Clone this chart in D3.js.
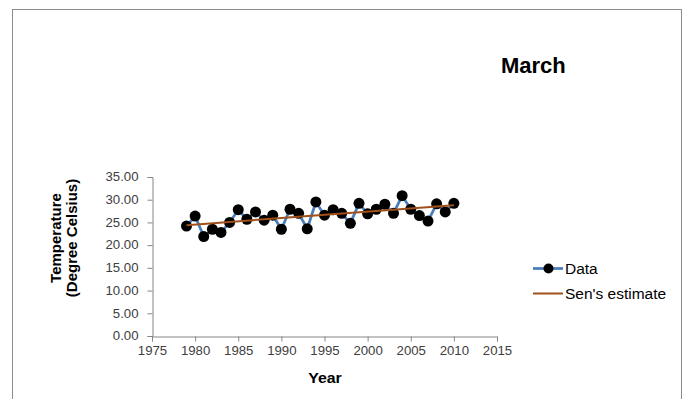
<!DOCTYPE html>
<html>
<head>
<meta charset="utf-8">
<script src="https://cdn.jsdelivr.net/npm/d3@7/dist/d3.min.js"></script>
<style>
  html, body { margin: 0; padding: 0; background: #fff; }
  svg { display: block; }
  text { font-family: "Liberation Sans", Arial, sans-serif; }
</style>
</head>
<body>
<svg id="chart" width="687" height="399"></svg>
<script>
// Mean March temperature per year
const years = [1979, 1980, 1981, 1982, 1983, 1984, 1985, 1986, 1987, 1988,
               1989, 1990, 1991, 1992, 1993, 1994, 1995, 1996, 1997, 1998,
               1999, 2000, 2001, 2002, 2003, 2004, 2005, 2006, 2007, 2008,
               2009, 2010];
const temps = [24.2, 26.4, 21.9, 23.5, 22.8, 25.0, 27.8, 25.7, 27.3, 25.5,
               26.6, 23.5, 27.9, 27.0, 23.6, 29.5, 26.6, 27.8, 27.0, 24.8,
               29.2, 26.9, 27.9, 29.0, 27.0, 30.9, 27.9, 26.5, 25.3, 29.1,
               27.3, 29.2];
// Sen's slope trend line, endpoints
const senYears = [1979, 2010];
const senValues = [24.4, 28.8];

const xTicks = [1975, 1980, 1985, 1990, 1995, 2000, 2005, 2010, 2015];
const yTicks = [0, 5, 10, 15, 20, 25, 30, 35];

const chartTitle = "March";
const xTitle = "Year";
const yTitleLines = ["Temperature", "(Degree Celsius)"];
const legendLabels = ["Data", "Sen's estimate"];

const svg = d3.select("#chart");

// widen glyphs horizontally while keeping each text's anchor point fixed
function stretch(sel, k) {
  sel.each(function () {
    const t = d3.select(this);
    const x0 = +(t.attr("x") || 0);
    t.attr("x", x0 / k).attr("transform", `scale(${k},1)`);
  });
}

// outer chart frame
svg.append("rect")
  .attr("x", 12.5).attr("y", 9.5)
  .attr("width", 669).attr("height", 420)
  .attr("fill", "#fff").attr("stroke", "#8c8c8c").attr("stroke-width", 1);

const x = d3.scaleLinear().domain([1975, 2015]).range([152, 497]);
const y = d3.scaleLinear().domain([0, 35]).range([336, 177]);

const axisColor = "#868686";

// y axis
const gy = svg.append("g")
  .attr("transform", "translate(152.5,0)")
  .call(d3.axisLeft(y).tickValues(yTicks).tickFormat(d3.format(".2f"))
    .tickSize(5).tickPadding(9));
// x axis
const gx = svg.append("g")
  .attr("transform", "translate(0,336.5)")
  .call(d3.axisBottom(x).tickValues(xTicks).tickFormat(d3.format("d"))
    .tickSize(5).tickPadding(5));

[gx, gy].forEach(g => {
  g.select(".domain").attr("stroke", axisColor);
  g.selectAll(".tick line").attr("stroke", axisColor);
  g.selectAll(".tick text")
    .attr("fill", "#404040")
    .style("font-family", "'Liberation Sans', Arial, sans-serif")
    .style("font-size", "12px");
  stretch(g.selectAll(".tick text"), 1.1);
});

// data series
const pts = years.map((yr, i) => [yr, temps[i]]);
svg.append("path")
  .datum(pts)
  .attr("fill", "none")
  .attr("stroke", "#4a7ebb")
  .attr("stroke-width", 2.75)
  .attr("stroke-linejoin", "round")
  .attr("d", d3.line().x(d => x(d[0])).y(d => y(d[1])));

svg.append("g").selectAll("circle")
  .data(pts)
  .join("circle")
  .attr("cx", d => x(d[0]))
  .attr("cy", d => y(d[1]))
  .attr("r", 5.5)
  .attr("fill", "#000");

// Sen's trend
svg.append("path")
  .datum(senYears.map((yr, i) => [yr, senValues[i]]))
  .attr("fill", "none")
  .attr("stroke", "#a0501a")
  .attr("stroke-width", 2)
  .attr("d", d3.line().x(d => x(d[0])).y(d => y(d[1])));

// titles
svg.append("text")
  .attr("x", 501).attr("y", 73)
  .attr("font-size", 22).attr("font-weight", "bold")
  .attr("fill", "#000")
  .text(chartTitle);

const xt = svg.append("text")
  .attr("x", 325).attr("y", 383)
  .attr("text-anchor", "middle")
  .attr("font-size", 15).attr("font-weight", "bold")
  .attr("fill", "#000")
  .text(xTitle);
stretch(xt, 1.06);

const yt = svg.append("text")
  .attr("transform", "translate(0,238) rotate(-90)")
  .attr("text-anchor", "middle")
  .attr("font-size", 15).attr("font-weight", "bold")
  .attr("fill", "#000");
yt.append("tspan").attr("x", 0).attr("y", 61).text(yTitleLines[0]);
yt.append("tspan").attr("x", 0).attr("y", 77).text(yTitleLines[1]);

// legend
const leg = svg.append("g");
leg.append("line")
  .attr("x1", 533).attr("x2", 563).attr("y1", 268.5).attr("y2", 268.5)
  .attr("stroke", "#4a7ebb").attr("stroke-width", 2.75);
leg.append("circle")
  .attr("cx", 548.5).attr("cy", 268.5).attr("r", 5).attr("fill", "#000");
leg.append("line")
  .attr("x1", 533).attr("x2", 563).attr("y1", 293.5).attr("y2", 293.5)
  .attr("stroke", "#a0501a").attr("stroke-width", 2);
const legText = leg.selectAll("text.leg")
  .data(legendLabels)
  .join("text")
  .attr("class", "leg")
  .attr("x", 565)
  .attr("y", (d, i) => 274 + i * 25)
  .attr("font-size", 14.5).attr("fill", "#000")
  .text(d => d);
stretch(legText, 1.07);
</script>
</body>
</html>
